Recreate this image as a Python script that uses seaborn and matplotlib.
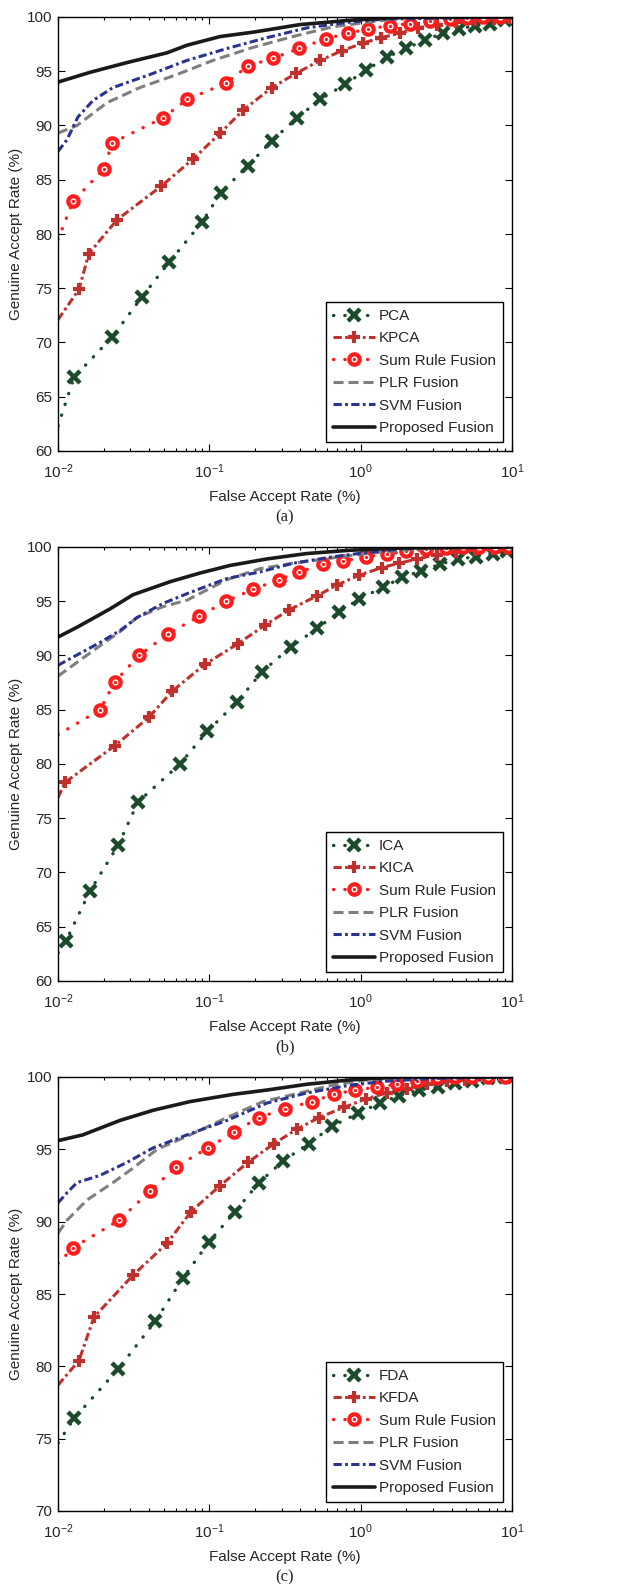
# FAR vs GAR curves for three feature extractors (a) PCA (b) ICA (c) FDA
import numpy as np
import matplotlib
matplotlib.use("Agg")
import matplotlib.pyplot as plt
from matplotlib.lines import Line2D
from matplotlib.ticker import LogLocator, NullFormatter, MultipleLocator
import seaborn as sns

# ---- panel (a) data: first point of each curve is the axis start (no marker)
pca_far = [0.01, 0.01277, 0.0228, 0.0359, 0.0542, 0.0896, 0.119, 0.180, 0.259, 0.380, 0.540,
           0.789, 1.086, 1.49, 2.0, 2.67, 3.5, 4.47, 5.7, 7.2, 9.0]
pca_gar = [62.3, 66.8, 70.5, 74.2, 77.4, 81.1, 83.8, 86.3, 88.6, 90.7, 92.4,
           93.8, 95.1, 96.3, 97.1, 97.9, 98.5, 98.9, 99.2, 99.4, 99.7]
kpca_far = [0.01, 0.01376, 0.0160, 0.0245, 0.048, 0.078, 0.118, 0.167, 0.259, 0.374, 0.540,
            0.753, 1.04, 1.36, 1.82, 2.39, 3.2, 4.27, 5.7, 7.6, 9.6]
kpca_gar = [72.1, 74.9, 78.2, 81.3, 84.4, 86.9, 89.3, 91.4, 93.5, 94.8, 96.0,
            96.9, 97.6, 98.1, 98.5, 99.0, 99.3, 99.5, 99.7, 99.8, 99.9]
sum_a_far = [0.01, 0.01256, 0.0201, 0.0228, 0.0494, 0.0712, 0.129, 0.180, 0.264, 0.392, 0.590,
             0.826, 1.12, 1.56, 2.12, 2.88, 3.90, 5.05, 6.44, 8.34]
sum_a_gar = [79.5, 83.0, 86.0, 88.4, 90.7, 92.4, 93.9, 95.5, 96.2, 97.1, 98.0,
             98.5, 98.9, 99.2, 99.4, 99.6, 99.8, 99.9, 100.0, 100.0]
plr_a_far = [0.01, 0.01335, 0.02108, 0.03483, 0.0612, 0.1058, 0.1944, 0.357, 0.657, 1.10, 1.82, 10]
plr_a_gar = [89.3, 90.0, 92.1, 93.5, 94.7, 96.0, 97.2, 98.2, 99.1, 99.5, 99.9, 100.0]
svm_a_far = [0.01, 0.01147, 0.01356, 0.01703, 0.02309, 0.04055, 0.0712, 0.131, 0.2406, 0.442,
             0.813, 1.41, 10]
svm_a_gar = [87.6, 88.7, 90.8, 92.3, 93.5, 94.7, 96.0, 97.1, 98.1, 99.0, 99.5, 99.8, 100.0]
prop_a_far = [0.01, 0.01628, 0.02858, 0.0525, 0.0712, 0.118, 0.1944, 0.397, 0.851, 1.82, 10]
prop_a_gar = [94.0, 94.9, 95.8, 96.7, 97.4, 98.2, 98.6, 99.3, 99.7, 99.97, 100.0]

# ---- panel (b) data
ica_far = [0.01, 0.01129, 0.01628, 0.02493, 0.0338, 0.0640, 0.0966, 0.1524, 0.2229, 0.3467, 0.515,
           0.720, 0.976, 1.41, 1.88, 2.51, 3.35, 4.40, 5.79, 7.50, 9.29]
ica_gar = [62.6, 63.7, 68.3, 72.5, 76.5, 80.0, 83.0, 85.7, 88.5, 90.8, 92.5,
           94.0, 95.2, 96.3, 97.2, 97.8, 98.4, 98.9, 99.1, 99.4, 99.6]
kica_far = [0.01, 0.01112, 0.0238, 0.0399, 0.0567, 0.0937, 0.155, 0.2335, 0.336, 0.515, 0.698,
            0.976, 1.38, 1.79, 2.36, 3.2, 4.27, 5.7, 7.5, 9.5]
kica_gar = [76.9, 78.3, 81.7, 84.3, 86.7, 89.2, 91.1, 92.8, 94.2, 95.5, 96.5,
            97.4, 98.1, 98.5, 98.9, 99.3, 99.5, 99.7, 99.8, 99.9]
sum_b_far = [0.01, 0.01896, 0.0238, 0.0343, 0.0533, 0.0855, 0.129, 0.1944, 0.289, 0.392, 0.564,
             0.765, 1.086, 1.49, 2.0, 2.71, 3.67, 4.75, 6.06, 7.73, 9.42]
sum_b_gar = [82.7, 85.0, 87.6, 90.0, 92.0, 93.6, 95.0, 96.1, 97.0, 97.7, 98.4,
             98.7, 99.1, 99.4, 99.6, 99.8, 99.9, 100.0, 100.0, 100.0, 100.0]
plr_b_far = [0.01, 0.01896, 0.0257, 0.0333, 0.0494, 0.0712, 0.131, 0.216, 0.357, 0.657, 1.10, 1.82, 3.0, 10]
plr_b_gar = [88.1, 90.9, 92.2, 93.5, 94.5, 95.1, 97.0, 98.0, 98.5, 99.0, 99.4, 99.7, 99.9, 100.0]
svm_b_far = [0.01, 0.01896, 0.0257, 0.0333, 0.0494, 0.0712, 0.131, 0.216, 0.357, 0.657, 1.10, 1.82, 3.0, 10]
svm_b_gar = [89.1, 91.2, 92.3, 93.5, 94.8, 95.7, 97.1, 97.7, 98.5, 99.1, 99.5, 99.8, 100.0, 100.0]
prop_b_far = [0.01, 0.01335, 0.0221, 0.0313, 0.055, 0.0868, 0.137, 0.2406, 0.442, 0.851, 1.82, 10]
prop_b_gar = [91.7, 92.6, 94.3, 95.6, 96.8, 97.6, 98.3, 98.9, 99.4, 99.7, 99.9, 100.0]

# ---- panel (c) data
fda_far = [0.01, 0.01277, 0.02493, 0.0438, 0.067, 0.0995, 0.148, 0.213, 0.307, 0.456, 0.647,
           0.961, 1.34, 1.79, 2.43, 3.25, 4.21, 5.45, 6.95, 9.0]
fda_gar = [74.7, 76.4, 79.8, 83.1, 86.1, 88.6, 90.7, 92.7, 94.2, 95.4, 96.6,
           97.5, 98.2, 98.7, 99.1, 99.3, 99.6, 99.7, 99.9, 100.0]
kfda_far = [0.01, 0.01376, 0.01729, 0.0313, 0.0525, 0.0757, 0.118, 0.180, 0.268, 0.380, 0.531,
            0.777, 1.086, 1.49, 2.03, 2.75, 3.72, 4.9, 6.7, 9.0]
kfda_gar = [78.7, 80.4, 83.4, 86.3, 88.5, 90.7, 92.5, 94.1, 95.4, 96.4, 97.2,
            97.9, 98.5, 98.9, 99.2, 99.5, 99.7, 99.8, 99.9, 100.0]
sum_c_far = [0.01, 0.01256, 0.0253, 0.0405, 0.0603, 0.098, 0.1457, 0.213, 0.316, 0.477, 0.667,
             0.918, 1.28, 1.74, 2.36, 3.2, 4.21, 5.45, 6.95, 9.0]
sum_c_gar = [87.1, 88.2, 90.1, 92.1, 93.8, 95.1, 96.2, 97.2, 97.8, 98.3, 98.8,
             99.1, 99.3, 99.5, 99.7, 99.9, 100.0, 100.0, 100.0, 100.0]
plr_c_far = [0.01, 0.01147, 0.01555, 0.02309, 0.0313, 0.0451, 0.0712, 0.131, 0.2264, 0.397, 0.657, 1.10, 1.82, 10]
plr_c_gar = [89.2, 90.1, 91.5, 92.7, 93.7, 95.0, 95.9, 97.2, 98.3, 98.9, 99.45, 99.8, 99.9, 100.0]
svm_c_far = [0.01, 0.01147, 0.01335, 0.01896, 0.02858, 0.0425, 0.0712, 0.131, 0.2406, 0.442, 0.813, 1.41, 3.0, 10]
svm_c_gar = [91.3, 92.0, 92.7, 93.2, 94.1, 95.1, 96.0, 97.0, 98.2, 98.9, 99.4, 99.7, 99.9, 100.0]
prop_c_far = [0.01, 0.0146, 0.0257, 0.0425, 0.0745, 0.1435, 0.2406, 0.442, 0.851, 1.82, 10]
prop_c_gar = [95.6, 96.0, 97.0, 97.7, 98.3, 98.8, 99.1, 99.5, 99.8, 100.0, 100.0]

panel_tags = ["(a)", "(b)", "(c)"]
base_names = [["PCA", "KPCA"], ["ICA", "KICA"], ["FDA", "KFDA"]]
fusion_names = ["Sum Rule Fusion", "PLR Fusion", "SVM Fusion", "Proposed Fusion"]
y_lows = [60, 60, 70]

panels = [
    [(pca_far, pca_gar), (kpca_far, kpca_gar), (sum_a_far, sum_a_gar),
     (plr_a_far, plr_a_gar), (svm_a_far, svm_a_gar), (prop_a_far, prop_a_gar)],
    [(ica_far, ica_gar), (kica_far, kica_gar), (sum_b_far, sum_b_gar),
     (plr_b_far, plr_b_gar), (svm_b_far, svm_b_gar), (prop_b_far, prop_b_gar)],
    [(fda_far, fda_gar), (kfda_far, kfda_gar), (sum_c_far, sum_c_gar),
     (plr_c_far, plr_c_gar), (svm_c_far, svm_c_gar), (prop_c_far, prop_c_gar)],
]

green, brick, red = "#1c4a2c", "#c0302c", "#ff1c1c"
dotted = (0, (0.1, 3.3))
dashdot = (0, (2.7, 1.1, 0.9, 1.1))
# line styles per series slot
styles = [
    dict(color=green, linestyle=dotted, lw=2.4, marker="x", ms=8, mew=3.2,
         mec=green, dash_capstyle="round"),
    dict(color=brick, linestyle=dashdot, lw=2.2, marker="+", ms=9, mew=3.0,
         mec=brick, dash_capstyle="butt"),
    dict(color=red, linestyle=dotted, lw=2.4, marker="o", ms=7.5, mew=3.0,
         mfc="white", mec=red, dash_capstyle="round"),
    dict(color="#7f7f7f", linestyle=(0, (3.3, 1.6)), lw=2.2, marker=None, dash_capstyle="butt"),
    dict(color="#2b3390", linestyle=dashdot, lw=2.2, marker=None, dash_capstyle="butt"),
    dict(color="#1a1a1a", linestyle="-", lw=2.6, marker=None),
]
dot_style = dict(color=red, linestyle="none", marker="o", ms=2.4, mew=0, mfc=red, mec=red)

sns.set_style("ticks")
plt.rcParams["font.family"] = ["Liberation Sans", "DejaVu Sans"]
plt.rcParams["mathtext.fontset"] = "custom"
plt.rcParams["mathtext.rm"] = "Liberation Sans"

fig = plt.figure(figsize=(6.34, 15.84), dpi=100)
W, H = 634, 1584
ax_left, ax_right = 58, 512
ax_tops = [17, 547, 1077]
ax_h = 434

for i in range(3):
    top = ax_tops[i]
    ax = fig.add_axes([ax_left / W, 1 - (top + ax_h) / H, (ax_right - ax_left) / W, ax_h / H])
    handles = []
    labels = base_names[i] + fusion_names
    for j, (far, gar) in enumerate(panels[i]):
        st = dict(styles[j])
        has_marker = st["marker"] is not None
        kw = dict(st)
        if has_marker:
            kw["markevery"] = slice(1, None)
        else:
            kw.pop("marker")
        sns.lineplot(x=far, y=gar, ax=ax, sort=False, estimator=None, **kw)
        hk = dict(st)
        if not has_marker:
            hk.pop("marker")
        h = Line2D([], [], **hk)
        if j == 2:
            # bullseye centre dot on sum rule markers
            sns.lineplot(x=far[1:], y=gar[1:], ax=ax, sort=False, estimator=None, **dot_style)
            h = (h, Line2D([], [], **dot_style))
        handles.append(h)
    ax.set_xscale("log")
    ax.set_xlim(0.01, 10)
    ax.set_ylim(y_lows[i], 100)
    ax.yaxis.set_major_locator(MultipleLocator(5))
    ax.xaxis.set_major_locator(LogLocator(base=10, numticks=10))
    ax.xaxis.set_minor_locator(LogLocator(base=10, subs=np.arange(2, 10), numticks=20))
    ax.xaxis.set_minor_formatter(NullFormatter())
    ax.tick_params(which="both", direction="in", top=True, right=True, labelsize=11,
                   width=0.8, color="black")
    ax.tick_params(axis="x", pad=8)
    ax.tick_params(axis="y", pad=4)
    ax.tick_params(which="major", length=5)
    ax.tick_params(which="minor", length=2.5)
    for s in ax.spines.values():
        s.set_linewidth(1.0)
        s.set_color("black")
    ax.set_xlabel("False Accept Rate (%)", fontsize=11, labelpad=7)
    ax.set_ylabel("Genuine Accept Rate (%)", fontsize=11, labelpad=3)
    leg = ax.legend(handles, labels, loc="lower right", fontsize=11, frameon=True,
                    fancybox=False, edgecolor="black", framealpha=1, handlelength=2.75,
                    labelspacing=0.55, borderpad=0.45, handletextpad=0.25,
                    borderaxespad=0.6, numpoints=1)
    leg.get_frame().set_linewidth(1.0)
    fig.text(((ax_left + ax_right) / 2) / W, 1 - (top + 500) / H, panel_tags[i],
             ha="center", va="center", fontsize=12, family="Liberation Serif")

fig.savefig("out.png", dpi=100)
